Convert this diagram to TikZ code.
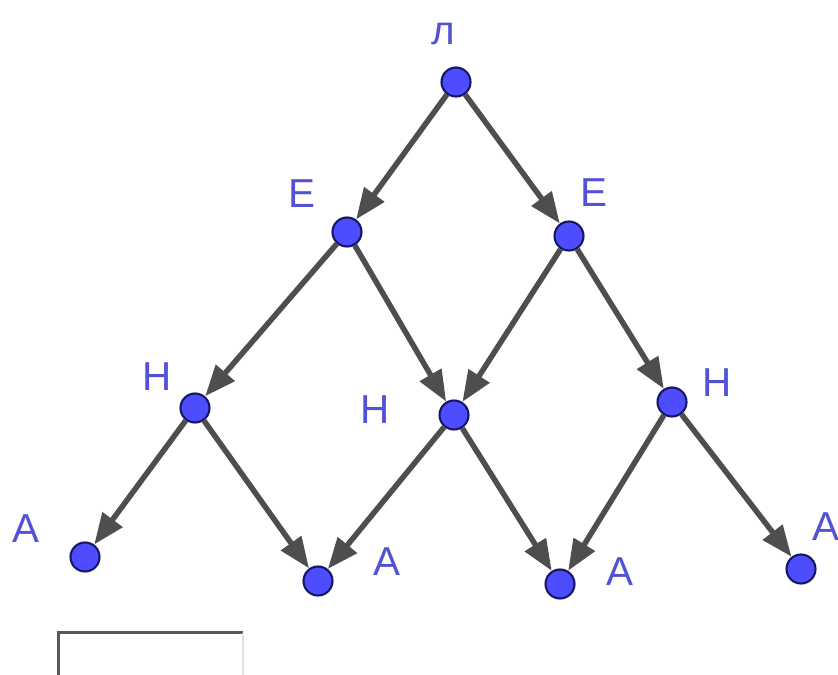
\documentclass[tikz,border=0pt]{standalone}
\usepackage{fontspec}
\setmainfont{Liberation Sans}
\usetikzlibrary{arrows.meta}

\definecolor{ptfill}{RGB}{77,77,255}
\definecolor{ptline}{RGB}{22,22,100}
\definecolor{lblblue}{RGB}{82,82,214}
\definecolor{edgegray}{RGB}{78,78,78}

\tikzset{
  pt/.style={circle, draw=ptline, fill=ptfill, line width=1.2pt, inner sep=0pt, minimum size=0.58cm},
  lbl/.style={lblblue, anchor=base, inner sep=0pt, font=\fontsize{23}{23}\selectfont},
  edge/.style={edgegray, line width=0.11cm, -{Triangle[length=0.62cm, width=0.48cm]}}
}

\begin{document}
\begin{tikzpicture}[x=0.02cm, y=-0.02cm]
    \useasboundingbox (0,0) rectangle (838,675);

    % points of the tree
    \node[pt] (L)  at (456,82)  {};
    \node[pt] (E1) at (347,232) {};
    \node[pt] (E2) at (569,236) {};
    \node[pt] (H1) at (195,408) {};
    \node[pt] (H2) at (454,415) {};
    \node[pt] (H3) at (672,402) {};
    \node[pt] (A1) at (85,557)  {};
    \node[pt] (A2) at (318,581) {};
    \node[pt] (A3) at (560,584) {};
    \node[pt] (A4) at (801,569) {};

    % letters
    \node[lbl] (tL)  at (443,45)  {л};
    \node[lbl] (tE1) at (302,208) {Е};
    \node[lbl] (tE2) at (594,207) {Е};
    \node[lbl] (tH1) at (157,390) {Н};
    \node[lbl] (tH2) at (375,423) {Н};
    \node[lbl] (tH3) at (717,397) {Н};
    \node[lbl] (tA1) at (26,542)  {А};
    \node[lbl] (tA2) at (387,575) {А};
    \node[lbl] (tA3) at (620,585) {А};
    \node[lbl] (tA4) at (826,540) {А};

    % arrows
    \draw[edge] (L) -- (E1);
    \draw[edge] (L) -- (E2);
    \draw[edge] (E1) -- (H1);
    \draw[edge] (E1) -- (H2);
    \draw[edge] (E2) -- (H2);
    \draw[edge] (E2) -- (H3);
    \draw[edge] (H1) -- (A1);
    \draw[edge] (H1) -- (A2);
    \draw[edge] (H2) -- (A2);
    \draw[edge] (H2) -- (A3);
    \draw[edge] (H3) -- (A3);
    \draw[edge] (H3) -- (A4);

    % empty answer box, cut by the lower edge
    \draw[gray!70!black, line width=0.06cm] (58,676) -- (58,632) -- (243,632);
    \draw[gray!25, line width=0.04cm] (243,633) -- (243,676);
\end{tikzpicture}
\end{document}
